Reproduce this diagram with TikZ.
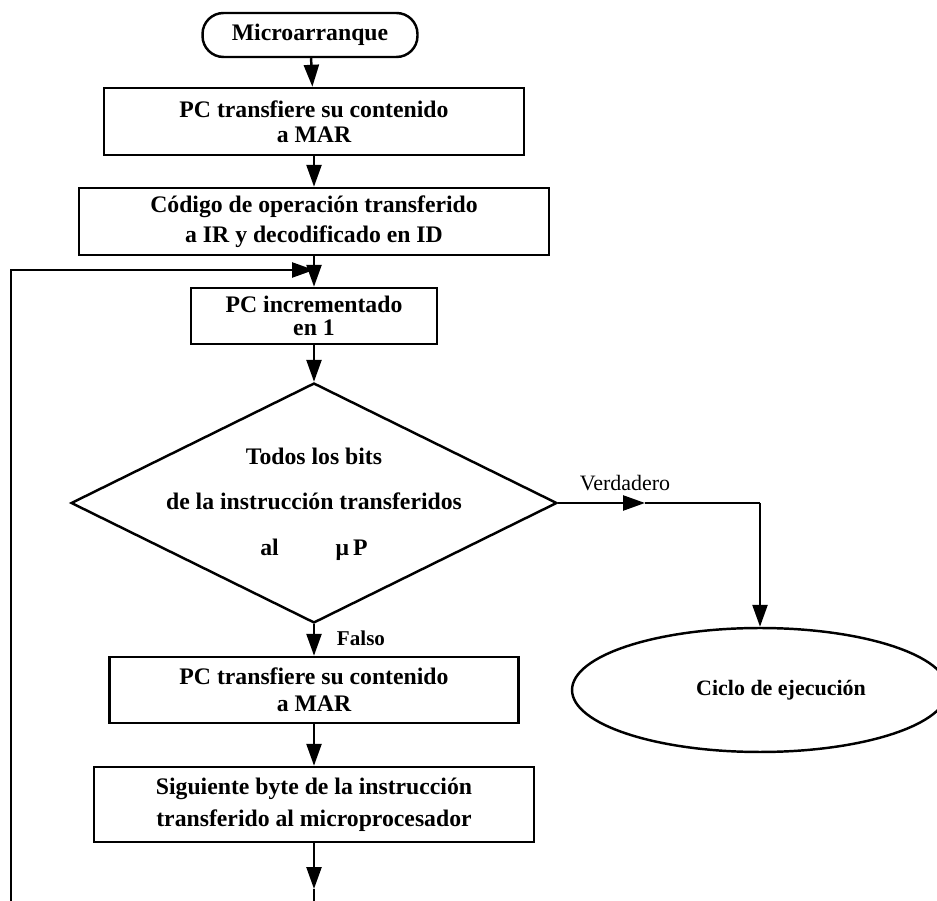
\documentclass[tikz,border=0pt]{standalone}
\usepackage{fontspec}
\setmainfont{Liberation Serif}
\usetikzlibrary{shapes.geometric,arrows.meta}
\newcommand\bfs[1]{\bfseries\fontsize{13.5}{#1}\selectfont}
\tikzset{
  box/.style={draw,line width=1.4pt,inner sep=0pt,align=center},
  startbox/.style={box,rounded corners=0.42cm,minimum width=4.3cm,minimum height=0.88cm},
  decision/.style={draw,line width=1.4pt,diamond,inner sep=0pt,minimum width=9.72cm,minimum height=4.8cm},
  endell/.style={draw,line width=1.4pt,ellipse,inner sep=0pt,minimum width=7.52cm,minimum height=2.48cm},
  flow/.style={line width=1.4pt,-{Triangle[length=0.44cm,width=0.3cm]}},
  plain/.style={line width=1.4pt}
}
\begin{document}
\begin{tikzpicture}[x=0.02cm,y=-0.02cm]
\useasboundingbox (0,0) rectangle (937,901);
% bloques
\node[startbox,font=\bfs{16}] (start) at (310,35) {Microarranque};
\node[box,font=\bfs{14},minimum width=8.4cm,minimum height=1.34cm] (pcmar) at (314,121.5) {PC transfiere su contenido\\a MAR};
\node[box,font=\bfs{17},minimum width=9.4cm,minimum height=1.34cm] (opcode) at (314,221.5) {Código de operación transferido\\a IR y decodificado en ID};
\node[box,font=\bfs{13},minimum width=4.92cm,minimum height=1.12cm] (pcinc) at (314,316) {PC incrementado\\en 1};
\node[decision] (dec) at (314,503) {};
\node[font=\bfs{26},align=center] (dectxt) at (314,504) {Todos los bits\\de la instrucción transferidos\\al\hspace{2.4em}μ\,P};
\node[box,font=\bfs{15.5},minimum width=8.18cm,minimum height=1.32cm] (pcmar2) at (314,690) {PC transfiere su contenido\\a MAR};
\node[box,font=\bfs{18},minimum width=8.8cm,minimum height=1.5cm] (nextbyte) at (314,804.5) {Siguiente byte de la instrucción\\transferido al microprocesador};
\node[endell] (exec) at (760,690) {};
\node[font=\bfseries\fontsize{12.5}{15}\selectfont] (exectxt) at (781,690) {Ciclo de ejecución};
% etiquetas
\node[font=\fontsize{12.5}{15}\selectfont] (vlab) at (625,483) {Verdadero};
\node[font=\bfseries\fontsize{12}{14}\selectfont] (flab) at (361,638) {Falso};
% puntos de paso
\coordinate (join) at (314,270);
\coordinate (loopbot) at (11,901);
\coordinate (vmid) at (645,503);
\coordinate (vturn) at (760,503);
\coordinate (outtip) at (314,889);
\coordinate (outend) at (314,901);
% flechas
\draw[flow] (start) -- (pcmar);
\draw[flow] (pcmar) -- (opcode);
\draw[flow] (opcode) -- (pcinc);
\draw[flow] (loopbot) |- (join);
\draw[flow] (pcinc) -- (dec);
\draw[flow] (dec) -- (pcmar2);
\draw[flow] (pcmar2) -- (nextbyte);
\draw[flow] (nextbyte) -- (outtip);
\draw[plain] (outtip) -- (outend);
\draw[flow] (dec.east) -- (vmid);
\draw[plain] (vmid) -- (vturn);
\draw[flow] (vturn) -- (exec.north);
\end{tikzpicture}
\end{document}
